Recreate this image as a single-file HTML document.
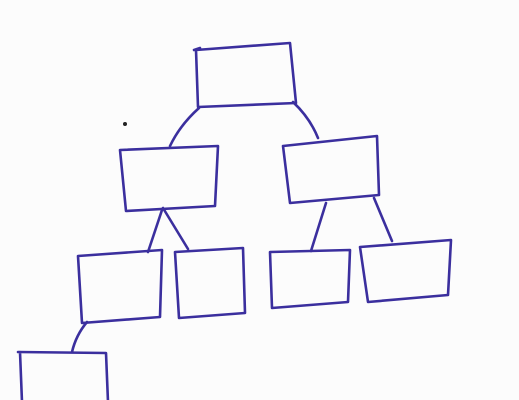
<!DOCTYPE html>
<html>
<head>
<meta charset="utf-8">
<style>
  html,body{margin:0;padding:0;background:#fdfdfd;}
  svg{display:block;}
</style>
</head>
<body>
<svg width="519" height="400" viewBox="0 0 519 400" xmlns="http://www.w3.org/2000/svg">
  <rect x="0" y="0" width="519" height="400" fill="#fcfcfc"/>
  <g fill="none" stroke="#3b2f9e" stroke-width="2.6" stroke-linecap="round" stroke-linejoin="round">
    <!-- root -->
    <path d="M196,50 L290,43 L296,103 L198,107 Z"/>
    <path d="M194,50 L200,48"/>
    <!-- level 2 -->
    <path d="M120,150 L218,146 L215,206 L126,211 Z"/>
    <path d="M283,146 L377,136 L379,195 L290,203 Z"/>
    <!-- level 3 -->
    <path d="M78,256 L162,250 L160,317 L82,323 Z"/>
    <path d="M175,252 L243,248 L245,313 L179,318 Z"/>
    <path d="M270,252 L350,250 L348,302 L272,308 Z"/>
    <path d="M360,247 L451,240 L448,295 L368,302 Z"/>
    <!-- level 4 -->
    <path d="M18,352 L106,353 L108,402 M20,352 L22,402"/>
    <!-- connectors -->
    <path d="M199,108 Q180,125 170,146"/>
    <path d="M293,102 Q310,118 318,138"/>
    <path d="M162,210 L148,252"/>
    <path d="M163,208 L188,249"/>
    <path d="M326,203 L311,251"/>
    <path d="M374,198 L392,241"/>
    <path d="M87,322 Q76,335 72,352"/>
  </g>
  <circle cx="125" cy="124" r="2" fill="#222"/>
</svg>
</body>
</html>
